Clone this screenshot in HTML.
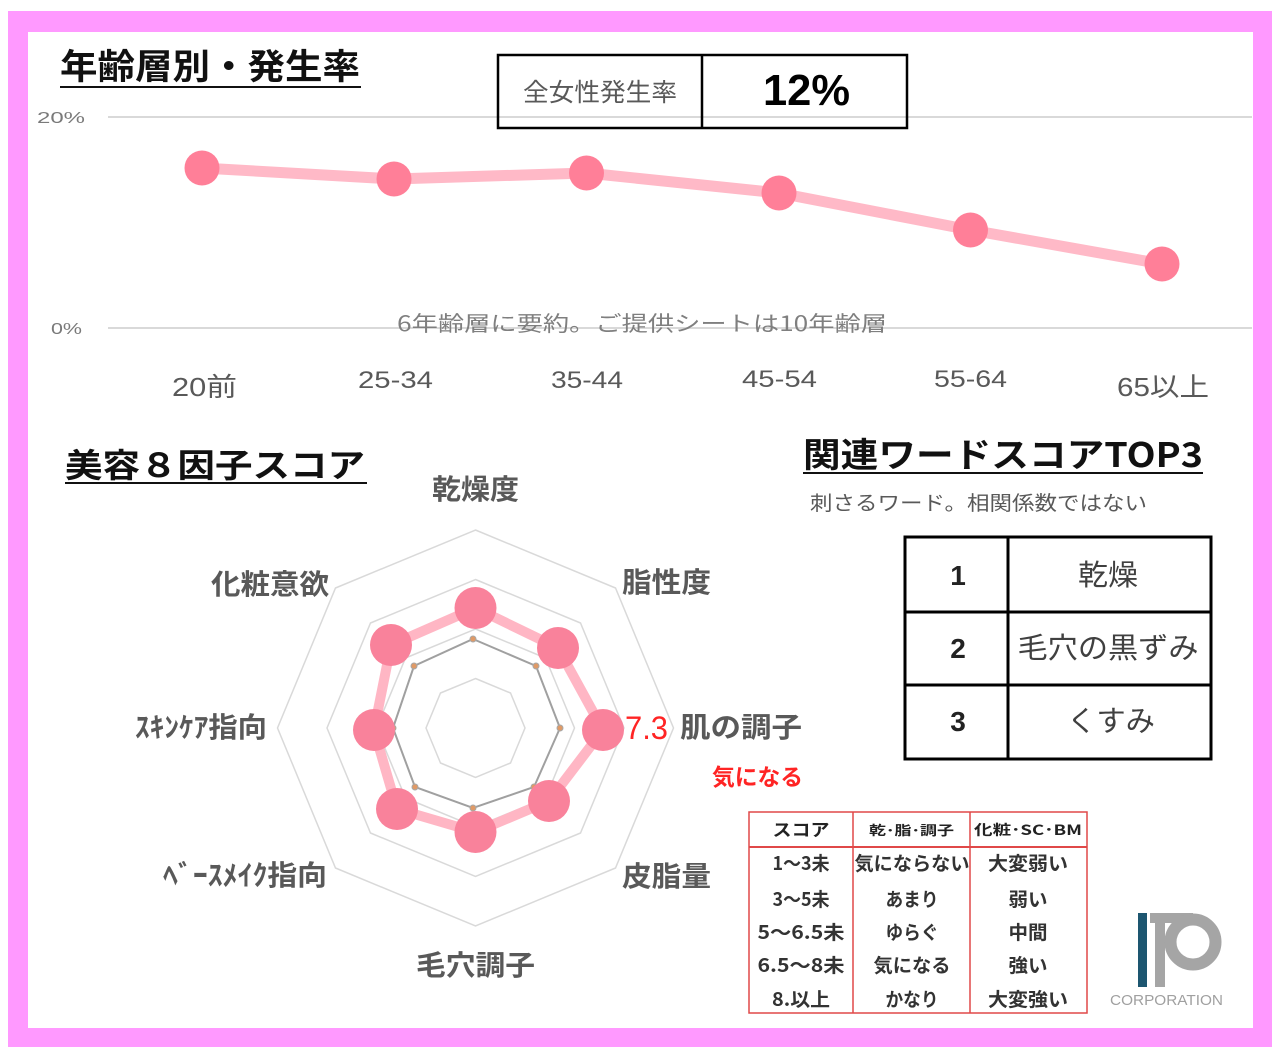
<!DOCTYPE html>
<html><head><meta charset="utf-8">
<style>
html,body{margin:0;padding:0;background:#fff;}
svg{display:block;}
text{font-family:"Liberation Sans","Noto Sans CJK JP",sans-serif;}
.jp{font-family:"Noto Sans CJK JP","Liberation Sans",sans-serif;}
</style></head><body>
<svg width="1280" height="1060" viewBox="0 0 1280 1060" xmlns="http://www.w3.org/2000/svg">
<rect x="0" y="0" width="1280" height="1060" fill="#fff"/>
<rect x="8" y="11" width="1264" height="1036" fill="#ff99ff"/>
<rect x="28" y="32" width="1225" height="996" fill="#fff"/>

<!-- ===== Line chart ===== -->
<text class="jp" x="60" y="79" font-size="35" font-weight="bold" fill="#111" textLength="300" lengthAdjust="spacingAndGlyphs">年齢層別・発生率</text>
<line x1="60" y1="87" x2="361" y2="87" stroke="#111" stroke-width="2"/>

<line x1="108" y1="117" x2="1252" y2="117" stroke="#d9d9d9" stroke-width="2"/>
<line x1="108" y1="328" x2="1252" y2="328" stroke="#d9d9d9" stroke-width="2"/>
<text x="37" y="123" font-size="16" fill="#7a7a7a" textLength="48" lengthAdjust="spacingAndGlyphs">20%</text>
<text x="51" y="334" font-size="16" fill="#7a7a7a" textLength="31" lengthAdjust="spacingAndGlyphs">0%</text>

<rect x="498" y="55" width="409" height="73" fill="none" stroke="#000" stroke-width="2.5"/>
<line x1="702" y1="55" x2="702" y2="128" stroke="#000" stroke-width="2.5"/>
<text class="jp" x="523" y="101" font-size="25" fill="#595959" textLength="154" lengthAdjust="spacingAndGlyphs">全女性発生率</text>
<text x="763" y="105" font-size="44" font-weight="bold" fill="#000" textLength="87" lengthAdjust="spacingAndGlyphs">12%</text>

<text class="jp" x="397" y="331" font-size="21" fill="#7f7f7f" textLength="490" lengthAdjust="spacingAndGlyphs">6年齢層に要約。ご提供シートは10年齢層</text>

<polyline points="202,168 394,179 586.5,173 779,193 970.5,230 1162,264" fill="none" stroke="#ffb9c7" stroke-width="11" stroke-linejoin="round" stroke-linecap="round"/>
<g fill="#ff7f98">
<circle cx="202" cy="168" r="17.5"/>
<circle cx="394" cy="179" r="17.5"/>
<circle cx="586.5" cy="173" r="17.5"/>
<circle cx="779" cy="193" r="17.5"/>
<circle cx="970.5" cy="230" r="17.5"/>
<circle cx="1162" cy="264" r="17.5"/>
</g>

<g fill="#595959">
<text x="172" y="396" font-size="26" textLength="65" lengthAdjust="spacingAndGlyphs">20前</text>
<text x="358" y="388" font-size="24" textLength="75" lengthAdjust="spacingAndGlyphs">25-34</text>
<text x="551" y="388" font-size="24" textLength="72" lengthAdjust="spacingAndGlyphs">35-44</text>
<text x="742" y="387" font-size="24" textLength="75" lengthAdjust="spacingAndGlyphs">45-54</text>
<text x="934" y="387" font-size="24" textLength="73" lengthAdjust="spacingAndGlyphs">55-64</text>
<text x="1117" y="396" font-size="26" textLength="92" lengthAdjust="spacingAndGlyphs">65以上</text>
</g>

<!-- ===== Radar ===== -->
<text class="jp" x="65" y="477" font-size="33" font-weight="bold" fill="#111" textLength="300" lengthAdjust="spacingAndGlyphs">美容８因子スコア</text>
<line x1="65" y1="483" x2="367" y2="483" stroke="#111" stroke-width="2"/>

<g fill="none" stroke="#d9d9d9" stroke-width="1.5">
<polygon points="475.5,530 615.5,588 673.5,728 615.5,868 475.5,926 335.5,868 277.5,728 335.5,588"/>
<polygon points="475.5,579.5 580.5,623 624,728 580.5,833 475.5,876.5 370.5,833 327,728 370.5,623"/>
<polygon points="475.5,629 545.5,658 574.5,728 545.5,798 475.5,827 405.5,798 376.5,728 405.5,658"/>
<polygon points="475.5,678.5 510.5,693 525,728 510.5,763 475.5,777.5 440.5,763 426,728 440.5,693"/>
</g>

<polygon points="473,639 536,666 560,728 534,787 473,808 415,787 393,728 414,666" fill="none" stroke="#a0a0a0" stroke-width="2"/>
<g fill="#e09a66" stroke="#a8a8a8" stroke-width="1">
<circle cx="473" cy="639" r="3"/><circle cx="536" cy="666" r="3"/><circle cx="560" cy="728" r="3"/><circle cx="534" cy="787" r="3"/>
<circle cx="473" cy="808" r="3"/><circle cx="415" cy="787" r="3"/><circle cx="393" cy="728" r="3"/><circle cx="414" cy="666" r="3"/>
</g>

<polygon points="475.5,608 558,648 603,730 549,801 475.5,832 397,809 374,730 391,645" fill="none" stroke="#ffb6c4" stroke-width="10" stroke-linejoin="round"/>
<g fill="#f9829b">
<circle cx="475.5" cy="608" r="21"/><circle cx="558" cy="648" r="21"/><circle cx="603" cy="730" r="21"/><circle cx="549" cy="801" r="21"/>
<circle cx="475.5" cy="832" r="21"/><circle cx="397" cy="809" r="21"/><circle cx="374" cy="730" r="21"/><circle cx="391" cy="645" r="21"/>
</g>

<g class="jp" fill="#595959" font-size="28" font-weight="bold">
<text class="jp" x="432" y="499" textLength="87" lengthAdjust="spacingAndGlyphs">乾燥度</text>
<text class="jp" x="622" y="592" textLength="89" lengthAdjust="spacingAndGlyphs">脂性度</text>
<text class="jp" x="680" y="737" textLength="122" lengthAdjust="spacingAndGlyphs">肌の調子</text>
<text class="jp" x="622" y="886" textLength="89" lengthAdjust="spacingAndGlyphs">皮脂量</text>
<text class="jp" x="416" y="975" textLength="119" lengthAdjust="spacingAndGlyphs">毛穴調子</text>
<text class="jp" x="163" y="885" textLength="164" lengthAdjust="spacingAndGlyphs">ﾍﾞｰｽﾒｲｸ指向</text>
<text class="jp" x="135" y="737" textLength="132" lengthAdjust="spacingAndGlyphs">ｽｷﾝｹｱ指向</text>
<text class="jp" x="211" y="594" textLength="118" lengthAdjust="spacingAndGlyphs">化粧意欲</text>
</g>

<text x="625" y="739" font-size="32" fill="#ff2424" textLength="43" lengthAdjust="spacingAndGlyphs">7.3</text>
<text class="jp" x="712" y="785" font-size="23" font-weight="bold" fill="#ff2424" textLength="91" lengthAdjust="spacingAndGlyphs">気になる</text>

<!-- ===== Top3 ===== -->
<text class="jp" x="803" y="467" font-size="34" font-weight="bold" fill="#111" textLength="400" lengthAdjust="spacingAndGlyphs">関連ワードスコアTOP3</text>
<line x1="803" y1="473" x2="1203" y2="473" stroke="#111" stroke-width="2"/>
<text class="jp" x="810" y="510" font-size="20" fill="#595959" textLength="337" lengthAdjust="spacingAndGlyphs">刺さるワード。相関係数ではない</text>

<rect x="905" y="537" width="306" height="222" fill="none" stroke="#000" stroke-width="3"/>
<line x1="1008" y1="537" x2="1008" y2="759" stroke="#000" stroke-width="3"/>
<line x1="905" y1="612" x2="1211" y2="612" stroke="#000" stroke-width="3"/>
<line x1="905" y1="685" x2="1211" y2="685" stroke="#000" stroke-width="3"/>
<g font-size="28" font-weight="bold" fill="#222" text-anchor="middle">
<text x="958" y="585">1</text>
<text x="958" y="658">2</text>
<text x="958" y="731">3</text>
</g>
<g class="jp" font-size="29" fill="#404040" text-anchor="middle">
<text class="jp" x="1108" y="585" textLength="60" lengthAdjust="spacingAndGlyphs">乾燥</text>
<text class="jp" x="1108" y="658" textLength="181" lengthAdjust="spacingAndGlyphs">毛穴の黒ずみ</text>
<text class="jp" x="1111" y="731" textLength="88" lengthAdjust="spacingAndGlyphs">くすみ</text>
</g>

<!-- ===== Score legend table ===== -->
<rect x="749" y="812" width="338" height="201" fill="#fff" stroke="#e04848" stroke-width="1.5"/>
<line x1="853" y1="812" x2="853" y2="1013" stroke="#e04848" stroke-width="1.5"/>
<line x1="970" y1="812" x2="970" y2="1013" stroke="#e04848" stroke-width="1.5"/>
<line x1="749" y1="847" x2="1087" y2="847" stroke="#e04848" stroke-width="2"/>
<g class="jp" fill="#222" text-anchor="middle" font-weight="bold">
<text class="jp" x="801" y="836" font-size="17" textLength="57" lengthAdjust="spacingAndGlyphs">スコア</text>
<text class="jp" x="911.5" y="835" font-size="13" textLength="85" lengthAdjust="spacingAndGlyphs">乾･脂･調子</text>
<text class="jp" x="1028" y="835" font-size="14" textLength="108" lengthAdjust="spacingAndGlyphs">化粧･SC･BM</text>
</g>
<g class="jp" fill="#333" text-anchor="middle" font-size="19" font-weight="bold">
<text class="jp" x="801" y="870" textLength="57" lengthAdjust="spacingAndGlyphs">1〜3未</text>
<text class="jp" x="801" y="906" textLength="57" lengthAdjust="spacingAndGlyphs">3〜5未</text>
<text class="jp" x="801" y="939" textLength="87" lengthAdjust="spacingAndGlyphs">5〜6.5未</text>
<text class="jp" x="801" y="972" textLength="87" lengthAdjust="spacingAndGlyphs">6.5〜8未</text>
<text class="jp" x="801" y="1006" textLength="58" lengthAdjust="spacingAndGlyphs">8.以上</text>
<text class="jp" x="912" y="870" textLength="115" lengthAdjust="spacingAndGlyphs">気にならない</text>
<text class="jp" x="912" y="906" textLength="53" lengthAdjust="spacingAndGlyphs">あまり</text>
<text class="jp" x="912" y="939" textLength="53" lengthAdjust="spacingAndGlyphs">ゆらぐ</text>
<text class="jp" x="912" y="972" textLength="77" lengthAdjust="spacingAndGlyphs">気になる</text>
<text class="jp" x="912" y="1006" textLength="53" lengthAdjust="spacingAndGlyphs">かなり</text>
<text class="jp" x="1028" y="870" textLength="80" lengthAdjust="spacingAndGlyphs">大変弱い</text>
<text class="jp" x="1028" y="906" textLength="39" lengthAdjust="spacingAndGlyphs">弱い</text>
<text class="jp" x="1028" y="939" textLength="39" lengthAdjust="spacingAndGlyphs">中間</text>
<text class="jp" x="1028" y="972" textLength="39" lengthAdjust="spacingAndGlyphs">強い</text>
<text class="jp" x="1028" y="1006" textLength="80" lengthAdjust="spacingAndGlyphs">大変強い</text>
</g>

<!-- ===== Logo ===== -->
<rect x="1138" y="913" width="9" height="74" fill="#1d5670"/>
<rect x="1155" y="918" width="10" height="69" fill="#a5a5a5"/>
<rect x="1150" y="913" width="43" height="10" fill="#a5a5a5"/>
<circle cx="1193" cy="942" r="22.5" fill="none" stroke="#a5a5a5" stroke-width="12"/>
<text x="1110" y="1005" font-size="15" fill="#a0a0a0" textLength="113" lengthAdjust="spacingAndGlyphs">CORPORATION</text>
</svg>
</body></html>
